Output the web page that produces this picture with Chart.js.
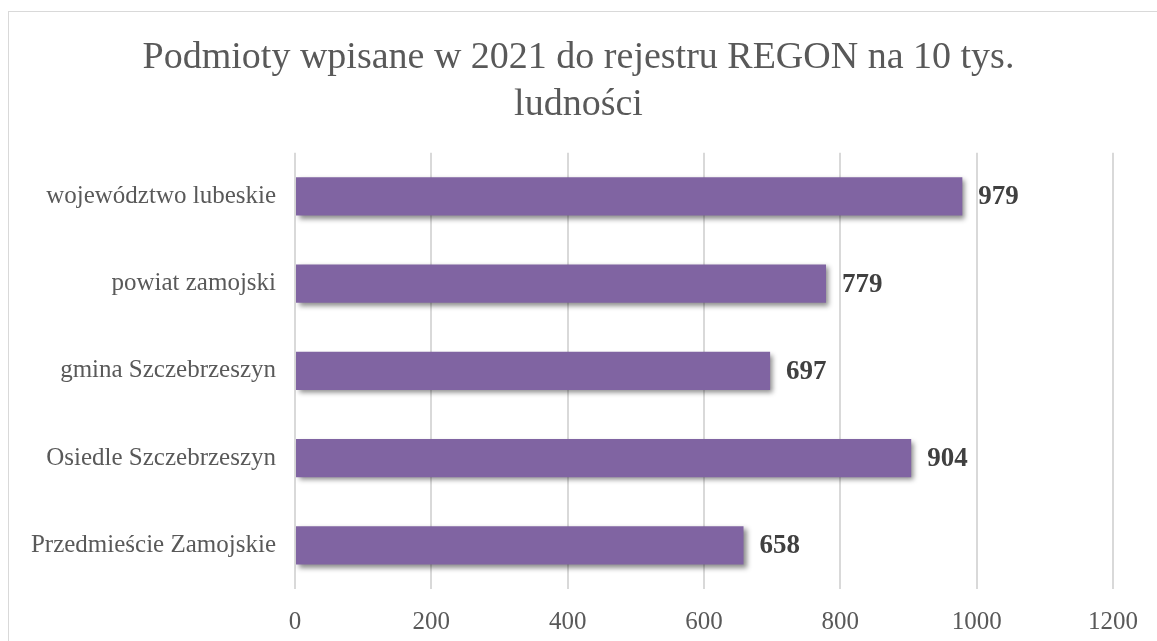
<!DOCTYPE html>
<html>
<head>
<meta charset="utf-8">
<script src="https://cdn.jsdelivr.net/npm/chart.js@4"></script>
<style>
  html, body { margin: 0; padding: 0; background: #fff; overflow: hidden; }
  #ramka { position: absolute; left: 8px; top: 11px; width: 1200px; height: 700px; border: 1px solid #d9d9d9; }
  #wykres-box { position: absolute; left: 0; top: 0; width: 1157px; height: 641px; }
</style>
</head>
<body>
<div id="ramka"></div>
<div id="wykres-box"><canvas id="wykres"></canvas></div>
<script>
// dane
const kategorie = ['województwo lubeskie', 'powiat zamojski', 'gmina Szczebrzeszyn', 'Osiedle Szczebrzeszyn', 'Przedmieście Zamojskie'];
const wartosci = [979, 779, 697, 904, 658];
const tytul = ['Podmioty wpisane w 2021 do rejestru REGON na 10 tys.', 'ludności'];
const osX = { min: 0, max: 1200, krok: 200 };

const czcionka = "'Liberation Serif', 'DejaVu Serif', serif";

// cień pod słupkami
const cienSlupkow = {
  id: 'cienSlupkow',
  beforeDatasetDraw(chart) {
    const ctx = chart.ctx;
    ctx.save();
    ctx.shadowColor = 'rgba(0,0,0,0.45)';
    ctx.shadowBlur = 5;
    ctx.shadowOffsetX = 3;
    ctx.shadowOffsetY = 3;
  },
  afterDatasetDraw(chart) {
    chart.ctx.restore();
  }
};

// etykiety z wartościami
const etykiety = {
  id: 'etykiety',
  afterDatasetsDraw(chart) {
    const ctx = chart.ctx;
    const meta = chart.getDatasetMeta(0);
    ctx.save();
    ctx.font = 'bold 27px ' + czcionka;
    ctx.fillStyle = '#404040';
    ctx.textAlign = 'left';
    ctx.textBaseline = 'middle';
    meta.data.forEach((bar, i) => {
      ctx.fillText(String(wartosci[i]), bar.x + 16, bar.y + 1);
    });
    ctx.restore();
  }
};

new Chart(document.getElementById('wykres'), {
  type: 'bar',
  data: {
    labels: kategorie,
    datasets: [{
      data: wartosci,
      backgroundColor: '#8064A2',
      borderWidth: 0,
      barPercentage: 0.44,
      categoryPercentage: 1
    }]
  },
  options: {
    indexAxis: 'y',
    responsive: true,
    maintainAspectRatio: false,
    animation: false,
    layout: { padding: { left: 0, right: 0, top: 35, bottom: 0 } },
    plugins: {
      legend: { display: false },
      tooltip: { enabled: false },
      title: {
        display: true,
        text: tytul,
        color: '#595959',
        font: { family: czcionka, size: 38, weight: 'normal', lineHeight: 1.22 },
        padding: { top: 0, bottom: 25 }
      }
    },
    scales: {
      x: {
        min: osX.min,
        max: osX.max,
        ticks: {
          stepSize: osX.krok,
          color: '#595959',
          font: { family: czcionka, size: 25 },
          padding: 18,
          callback: (v) => String(v)
        },
        grid: { color: '#d9d9d9', lineWidth: 2, drawTicks: false },
        border: { display: false },
        afterFit(scale) { scale.height = 52; }
      },
      y: {
        ticks: {
          color: '#595959',
          font: { family: czcionka, size: 25 },
          padding: 19
        },
        grid: { display: false, drawTicks: false },
        border: { display: false },
        afterFit(scale) { scale.width = 295; }
      },
      // pusta oś po prawej, tylko żeby zostawić margines
      prawa: {
        axis: 'y',
        type: 'category',
        position: 'right',
        ticks: { display: false },
        grid: { display: false, drawTicks: false },
        border: { display: false },
        afterFit(scale) { scale.width = 44; }
      }
    }
  },
  plugins: [cienSlupkow, etykiety]
});
</script>
</body>
</html>
